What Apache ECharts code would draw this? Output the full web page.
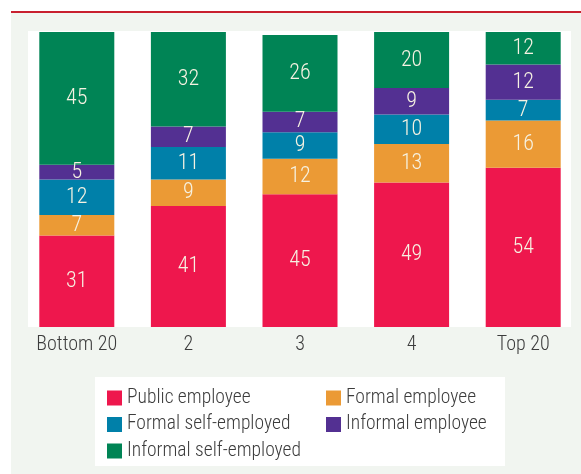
<!DOCTYPE html>
<html>
<head>
<meta charset="utf-8">
<style>
  html, body { margin: 0; padding: 0; background: #ffffff; }
  #chart { width: 581px; height: 474px; }
</style>
<script src="https://cdn.jsdelivr.net/npm/echarts@6/dist/echarts.min.js"></script>
</head>
<body>
<div id="chart"></div>
<script>
// Income groups along the x axis
const categories = ['Bottom 20', '2', '3', '4', 'Top 20'];

// Share of workers (%) by employment type, stacked bottom to top
const publicEmployee       = [31, 41, 45, 49, 54];
const formalEmployee       = [7, 9, 12, 13, 16];
const formalSelfEmployed   = [12, 11, 9, 10, 7];
const informalEmployee     = [5, 7, 7, 9, 12];
const informalSelfEmployed = [45, 32, 26, 20, 12];

const seriesNames = ['Public employee', 'Formal employee', 'Formal self-employed', 'Informal employee', 'Informal self-employed'];
const seriesValues = [publicEmployee, formalEmployee, formalSelfEmployed, informalEmployee, informalSelfEmployed];
const seriesColors = ['#ee174d', '#eb9a35', '#0080a9', '#533092', '#008455'];

const FONT = '"Roboto Condensed", "Liberation Sans Narrow", sans-serif';
const TEXT_DARK = '#3c3c3c';

const chart = echarts.init(document.getElementById('chart'), null, { renderer: 'canvas' });

const series = seriesNames.map((name, i) => ({
  name: name,
  type: 'bar',
  stack: 'share',
  barWidth: 75,
  clip: true,
  data: seriesValues[i],
  itemStyle: { color: seriesColors[i] },
  label: {
    show: true,
    position: 'inside',
    color: '#f6f2e2',
    fontFamily: FONT,
    fontWeight: 300,
    fontSize: 22
  },
  emphasis: { disabled: true }
}));

const legendBase = {
  orient: 'vertical',
  top: 388,
  height: 200,
  padding: 0,
  itemWidth: 15,
  itemHeight: 15,
  itemGap: 6.5,
  icon: 'rect',
  selectedMode: false,
  textStyle: { color: TEXT_DARK, fontSize: 19.5, fontWeight: 300, fontFamily: FONT, lineHeight: 15 }
};

chart.setOption({
  animation: false,
  backgroundColor: '#ffffff',
  textStyle: { fontFamily: FONT },
  graphic: [
    // panel background
    { type: 'rect', z: -10, shape: { x: 11, y: 13, width: 570, height: 461 }, style: { fill: '#f1f5f0' } },
    // red rule across the top
    { type: 'rect', z: -9, shape: { x: 11, y: 11, width: 570, height: 2 }, style: { fill: '#c8202f' } },
    // plot area
    { type: 'rect', z: -8, shape: { x: 28, y: 31, width: 543, height: 296 }, style: { fill: '#ffffff' } },
    // legend box
    { type: 'rect', z: -8, shape: { x: 95, y: 377, width: 410, height: 89 }, style: { fill: '#ffffff' } }
  ],
  grid: { left: 21, right: 2, top: 32, bottom: 147, containLabel: false },
  xAxis: {
    type: 'category',
    data: categories,
    axisLine: { show: false },
    axisTick: { show: false },
    axisLabel: { interval: 0, color: TEXT_DARK, fontSize: 20, fontWeight: 300, fontFamily: FONT, margin: 8 }
  },
  yAxis: {
    type: 'value',
    min: 0,
    max: 100,
    show: false,
    splitLine: { show: false }
  },
  legend: [
    Object.assign({}, legendBase, {
      data: ['Public employee', 'Formal self-employed', 'Informal self-employed'],
      left: 107
    }),
    Object.assign({}, legendBase, {
      data: ['Formal employee', 'Informal employee'],
      left: 326
    })
  ],
  series: series
});
</script>
</body>
</html>
